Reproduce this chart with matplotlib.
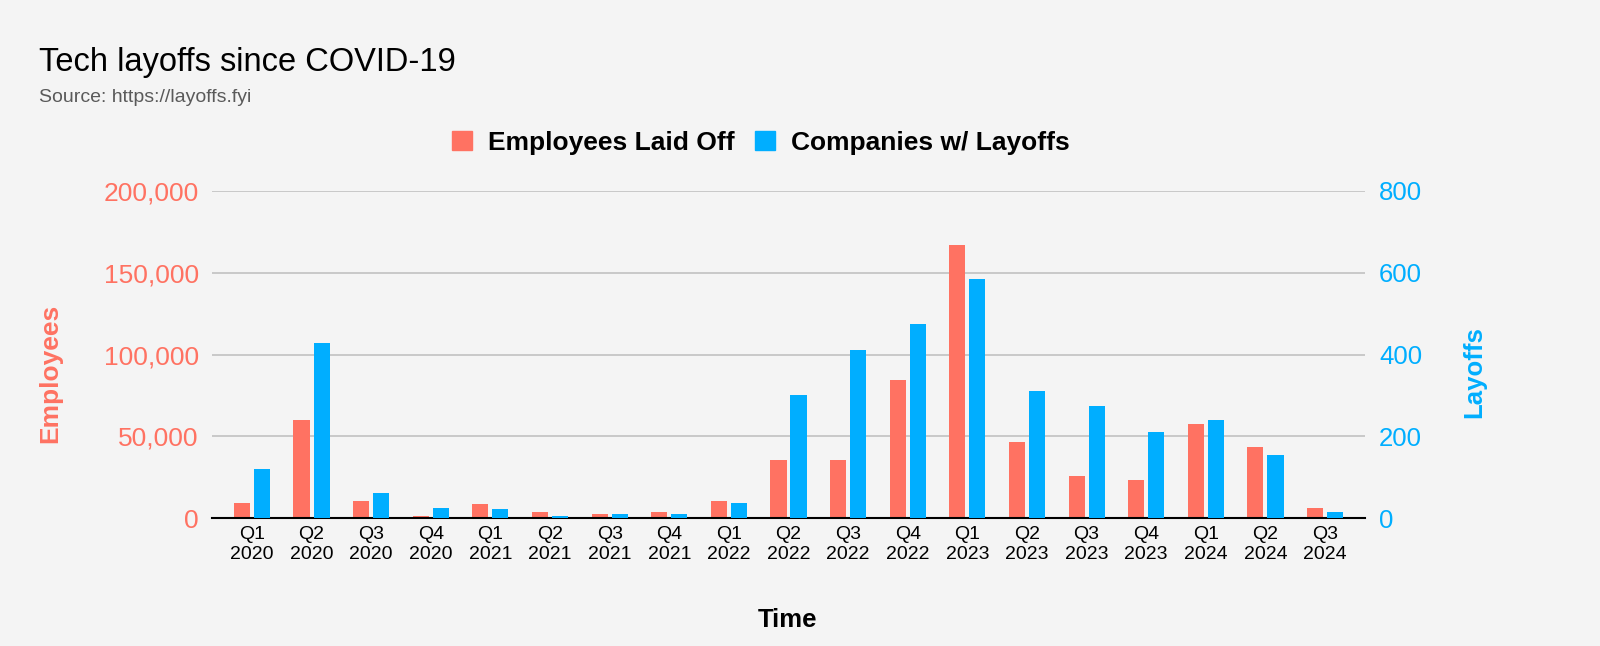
import matplotlib
matplotlib.use("Agg")
import matplotlib.pyplot as plt
import numpy as np
from matplotlib.ticker import FuncFormatter

# Data
quarters = ["Q1\n2020", "Q2\n2020", "Q3\n2020", "Q4\n2020",
            "Q1\n2021", "Q2\n2021", "Q3\n2021", "Q4\n2021",
            "Q1\n2022", "Q2\n2022", "Q3\n2022", "Q4\n2022",
            "Q1\n2023", "Q2\n2023", "Q3\n2023", "Q4\n2023",
            "Q1\n2024", "Q2\n2024", "Q3\n2024"]
employees = [9400, 59700, 10400, 1400,
             8400, 3500, 2400, 3500,
             10400, 35200, 35200, 84500,
             166800, 46400, 25500, 23400,
             57600, 43600, 6300]
companies = [121, 427, 61, 25,
             21, 6, 10, 10,
             37, 302, 411, 475,
             584, 310, 275, 210,
             239, 154, 14]

C_RED = "#FF7262"
C_BLUE = "#00AEFF"
C_BG = "#F4F4F4"
C_GRID = "#C8C8C8"

plt.rcParams["font.family"] = ["Liberation Sans", "DejaVu Sans"]

fig = plt.figure(figsize=(16, 6.46), dpi=100, facecolor=C_BG)
ax = fig.add_axes([212 / 1600, 1 - 518 / 646, (1365 - 212) / 1600, (518 - 191) / 646])
ax.set_facecolor(C_BG)
ax2 = ax.twinx()

x = np.arange(len(quarters))
w = 0.27
off = 0.168
ax.bar(x - off, employees, width=w, color=C_RED, zorder=3)
ax2.bar(x + off, companies, width=w, color=C_BLUE, zorder=3)

ax.set_xlim(-0.67, len(quarters) - 1 + 0.67)
ax.set_ylim(0, 200000)
ax2.set_ylim(0, 800)
ax.set_yticks([0, 50000, 100000, 150000, 200000])
ax2.set_yticks([0, 200, 400, 600, 800])
ax.yaxis.set_major_formatter(FuncFormatter(lambda v, p: f"{int(v):,}"))

ax.yaxis.grid(True, color=C_GRID, lw=1.4, zorder=0)
ax.set_axisbelow(True)

for a in (ax, ax2):
    for s in ("top", "left", "right", "bottom"):
        a.spines[s].set_visible(False)
ax.spines["bottom"].set_visible(True)
ax.spines["bottom"].set_color("#000000")
ax.spines["bottom"].set_linewidth(1.5)
ax.spines["bottom"].set_zorder(5)

ax.set_xticks(x)
ax.set_xticklabels(quarters, fontsize=14, linespacing=1.2)
ax.tick_params(axis="x", length=0, pad=6)
ax.tick_params(axis="y", length=0, pad=9.5, labelsize=19, labelcolor=C_RED)
ax2.tick_params(axis="y", length=0, pad=10, labelsize=18.5, labelcolor=C_BLUE)

# Axis titles
fig.text(50 / 1600, 1 - 373 / 646, "Employees", rotation=90, ha="center", va="center",
         fontsize=19, fontweight="bold", color=C_RED)
fig.text(1474 / 1600, 1 - 372 / 646, "Layoffs", rotation=90, ha="center", va="center",
         fontsize=18.5, fontweight="bold", color=C_BLUE)
fig.text(788 / 1600, 1 - 620 / 646, "Time", ha="center", va="center",
         fontsize=18.5, fontweight="bold", color="#000000")

# Title
fig.text(39 / 1600, 1 - 71 / 646, "Tech layoffs since COVID-19", ha="left", va="baseline",
         fontsize=23.5, color="#000000")
fig.text(39 / 1600, 1 - 98 / 646, "Source: https://layoffs.fyi", ha="left", va="center",
         fontsize=14, color="#5A5A5A")

# Legend
h1 = plt.Rectangle((0, 0), 1, 1, color=C_RED)
h2 = plt.Rectangle((0, 0), 1, 1, color=C_BLUE)
leg = fig.legend([h1, h2], ["Employees Laid Off", "Companies w/ Layoffs"],
                 loc="center", bbox_to_anchor=(761 / 1600, 1 - 143 / 646), ncol=2,
                 frameon=False, handlelength=0.75, handleheight=0.75,
                 handletextpad=0.6, columnspacing=0.8,
                 prop={"size": 19, "weight": "bold"})

fig.savefig("out.png", dpi=100, facecolor=C_BG)
